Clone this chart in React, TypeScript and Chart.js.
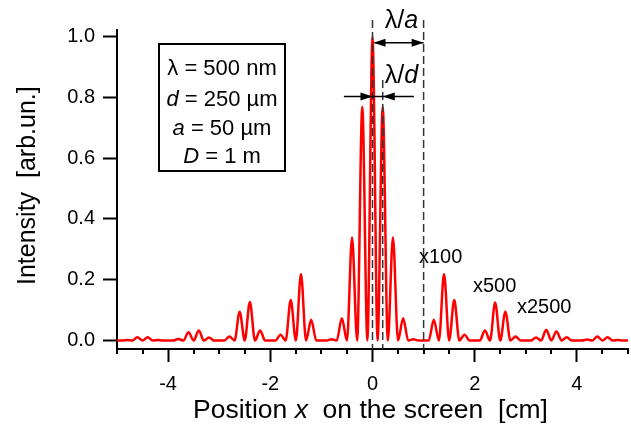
import React, { useEffect, useRef } from 'react';
import { Chart, registerables } from 'chart.js';

Chart.register(...registerables);

// ---- data ----
const positions = [
  -5.0, -4.9, -4.8, -4.7, -4.6, -4.5, -4.4, -4.3, -4.2, -4.1,
  -4.0, -3.9, -3.8, -3.7, -3.6, -3.5, -3.4, -3.3, -3.2, -3.1,
  -3.0, -2.9, -2.8, -2.7, -2.6, -2.5, -2.4, -2.3, -2.2, -2.1,
  -2.0, -1.9, -1.8, -1.7, -1.6, -1.5, -1.4, -1.3, -1.2, -1.1,
  -1.0, -0.9, -0.8, -0.7, -0.6, -0.5, -0.4, -0.3, -0.2, -0.1,
  0.0, 0.1, 0.2, 0.3, 0.4, 0.5, 0.6, 0.7, 0.8, 0.9,
  1.0, 1.1, 1.2, 1.3, 1.4, 1.5, 1.6, 1.7, 1.8, 1.9,
  2.0, 2.1, 2.2, 2.3, 2.4, 2.5, 2.6, 2.7, 2.8, 2.9,
  3.0, 3.1, 3.2, 3.3, 3.4, 3.5, 3.6, 3.7, 3.8, 3.9,
  4.0, 4.1, 4.2, 4.3, 4.4, 4.5, 4.6, 4.7, 4.8, 4.9,
  5.0,
];

const intensity = [
  0, 0, 0.002, 0, 0.011, 0, 0.011, 0, 0.002, 0,
  0, 0, 0.005, 0, 0.027, 0, 0.033, 0, 0.01, 0,
  0, 0, 0.013, 0, 0.095, 0, 0.127, 0, 0.033, 0,
  0, 0, 0.019, 0, 0.133, 0, 0.219, 0, 0.068, 0,
  0, 0, 0.004, 0, 0.073, 0, 0.339, 0, 0.769, 0,
  1.0, 0, 0.769, 0, 0.339, 0, 0.073, 0, 0.004, 0,
  0, 0, 0.068, 0, 0.219, 0, 0.133, 0, 0.019, 0,
  0, 0, 0.033, 0, 0.125, 0, 0.095, 0, 0.013, 0,
  0, 0, 0.01, 0, 0.035, 0, 0.03, 0, 0.011, 0,
  0, 0, 0.003, 0, 0.013, 0, 0.011, 0, 0.002, 0,
  0,
];

const xTicks = [-4, -2, 0, 2, 4];
const xMinorTicks = [-5, -4.5, -3.5, -3, -2.5, -1.5, -1, -0.5, 0.5, 1, 1.5, 2.5, 3, 3.5, 4.5, 5];
const yTicks = [0, 0.2, 0.4, 0.6, 0.8, 1.0];
const guideLines = [0, 0.2, 1];
const gainLabels = ['x100', 'x500', 'x2500'];

type Seg = { t: string; i?: boolean };
const paramLines: Seg[][] = [
  [{ t: 'λ = 500 nm' }],
  [{ t: 'd', i: true }, { t: ' = 250 µm' }],
  [{ t: 'a', i: true }, { t: ' = 50 µm' }],
  [{ t: 'D', i: true }, { t: ' = 1 m' }],
];
const xTitle: Seg[] = [{ t: 'Position ' }, { t: 'x', i: true }, { t: '  on the screen  [cm]' }];
const yTitle = 'Intensity  [arb.un.]';
const labelA: Seg[] = [{ t: 'λ/' }, { t: 'a', i: true }];
const labelD: Seg[] = [{ t: 'λ/' }, { t: 'd', i: true }];

const FAM = '"Liberation Sans", Arial, Helvetica, sans-serif';

function drawRich(ctx: CanvasRenderingContext2D, segs: Seg[], x: number, y: number, size: number, align: 'left' | 'center') {
  const widths = segs.map((s) => {
    ctx.font = `${s.i ? 'italic ' : ''}${size}px ${FAM}`;
    return ctx.measureText(s.t).width;
  });
  const total = widths.reduce((a, b) => a + b, 0);
  let cx = align === 'center' ? x - total / 2 : x;
  ctx.textAlign = 'left';
  ctx.textBaseline = 'alphabetic';
  segs.forEach((s, k) => {
    ctx.font = `${s.i ? 'italic ' : ''}${size}px ${FAM}`;
    ctx.fillText(s.t, cx, y);
    cx += widths[k];
  });
}

function arrowHead(ctx: CanvasRenderingContext2D, tipX: number, y: number, dir: number) {
  const len = 12;
  const hw = 4;
  ctx.beginPath();
  ctx.moveTo(tipX, y);
  ctx.lineTo(tipX - dir * len, y - hw);
  ctx.lineTo(tipX - dir * len, y + hw);
  ctx.closePath();
  ctx.fill();
}

const overlay = {
  id: 'overlay',
  afterDraw(chart: any) {
    const ctx: CanvasRenderingContext2D = chart.ctx;
    const xs = chart.scales.x;
    const ys = chart.scales.y;
    const area = chart.chartArea;
    const px = (v: number) => xs.getPixelForValue(v);
    const py = (v: number) => ys.getPixelForValue(v);
    ctx.save();

    // minor x ticks
    ctx.strokeStyle = '#000';
    ctx.lineWidth = 2;
    xMinorTicks.forEach((v) => {
      const x = Math.round(px(v));
      ctx.beginPath();
      ctx.moveTo(x, area.bottom);
      ctx.lineTo(x, area.bottom + 5);
      ctx.stroke();
    });

    // dashed guide lines
    ctx.strokeStyle = '#333';
    ctx.lineWidth = 1.5;
    ctx.setLineDash([8, 4]);
    const tops = [20, 80, 20];
    guideLines.forEach((v, k) => {
      const x = px(v);
      ctx.beginPath();
      ctx.moveTo(x, tops[k]);
      ctx.lineTo(x, area.bottom);
      ctx.stroke();
    });
    ctx.setLineDash([]);

    // arrows
    ctx.strokeStyle = '#000';
    ctx.fillStyle = '#000';
    ctx.lineWidth = 1.5;
    const yA = py(0.98);
    const x0 = px(0);
    const x1 = px(1);
    const x02 = px(0.2);
    ctx.beginPath();
    ctx.moveTo(x0 + 2, yA);
    ctx.lineTo(x1, yA);
    ctx.stroke();
    arrowHead(ctx, x0 + 1, yA, -1);
    arrowHead(ctx, x1, yA, 1);

    const yD = py(0.803);
    ctx.beginPath();
    ctx.moveTo(px(-0.56), yD);
    ctx.lineTo(px(0.81), yD);
    ctx.stroke();
    arrowHead(ctx, x0, yD, 1);
    arrowHead(ctx, x02, yD, -1);

    ctx.fillStyle = '#000';
    drawRich(ctx, labelA, 401.5, 28, 25, 'center');
    drawRich(ctx, labelD, 401.5, 83, 25, 'center');

    // parameter box
    ctx.lineWidth = 2;
    ctx.strokeRect(159, 44, 126, 127);
    const baselines = [75, 106, 135, 163];
    paramLines.forEach((segs, k) => drawRich(ctx, segs, 222, baselines[k], 22, 'center'));

    // gain labels
    const gainPos = [
      [419, 263],
      [473, 291.5],
      [517, 312.5],
    ];
    gainLabels.forEach((t, k) => drawRich(ctx, [{ t }], gainPos[k][0], gainPos[k][1], 20, 'left'));

    // axis titles
    drawRich(ctx, xTitle, 193, 418, 26.5, 'left');
    ctx.save();
    ctx.translate(34.5, 285);
    ctx.rotate(-Math.PI / 2);
    drawRich(ctx, [{ t: yTitle }], 0, 0, 25, 'left');
    ctx.restore();

    ctx.restore();
  },
};

export default function App() {
  const ref = useRef<HTMLCanvasElement | null>(null);
  useEffect(() => {
    if (!ref.current) return;
    const chart = new Chart(ref.current, {
      type: 'line',
      data: {
        datasets: [
          {
            data: positions.map((x, k) => ({ x, y: intensity[k] })),
            borderColor: '#ff0000',
            borderWidth: 2.5,
            pointRadius: 0,
            fill: false,
            cubicInterpolationMode: 'monotone',
          },
        ],
      },
      options: {
        animation: false,
        responsive: false,
        maintainAspectRatio: false,
        layout: { padding: { top: 30, right: 3, left: 0, bottom: 0 } },
        plugins: { legend: { display: false }, tooltip: { enabled: false } },
        scales: {
          x: {
            type: 'linear',
            min: -5,
            max: 5,
            afterBuildTicks: (s: any) => {
              s.ticks = xTicks.map((v) => ({ value: v }));
            },
            afterFit: (s: any) => {
              s.height = 75;
            },
            ticks: {
              color: '#000',
              font: { family: FAM, size: 20 },
              padding: 10,
              maxRotation: 0,
              autoSkip: false,
              callback: (v: any) => String(v),
            },
            grid: { drawOnChartArea: false, drawTicks: true, tickLength: 13, tickWidth: 2, tickColor: '#000' },
            border: { display: true, color: '#000', width: 2 },
          },
          y: {
            type: 'linear',
            min: -0.028,
            max: 1.022,
            afterBuildTicks: (s: any) => {
              s.ticks = yTicks.map((v) => ({ value: v }));
            },
            afterFit: (s: any) => {
              s.width = 117;
            },
            ticks: {
              color: '#000',
              font: { family: FAM, size: 20 },
              padding: 8,
              callback: (v: any) => Number(v).toFixed(1),
            },
            grid: { drawOnChartArea: false, drawTicks: true, tickLength: 14, tickWidth: 2, tickColor: '#000' },
            border: { display: true, color: '#000', width: 2 },
          },
        },
      },
      plugins: [overlay],
    } as any);
    return () => chart.destroy();
  }, []);
  return (
    <div style={{ position: 'absolute', left: 0, top: 0, width: 631, height: 424, background: '#fff' }}>
      <canvas ref={ref} width={631} height={424} style={{ display: 'block' }} />
    </div>
  );
}
